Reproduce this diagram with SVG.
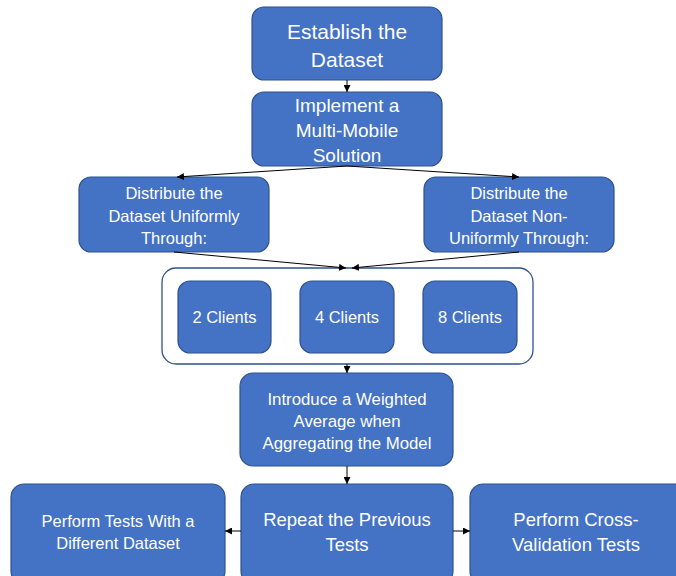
<svg xmlns="http://www.w3.org/2000/svg" width="676" height="576" viewBox="0 0 676 576">
  <defs>
    <marker id="arrow" viewBox="0 0 10 10" refX="10" refY="5" markerWidth="7" markerHeight="7" markerUnits="userSpaceOnUse" orient="auto">
      <path d="M0,0 L10,5 L0,10 z" fill="#000"/>
    </marker>
    <style>
      .box { fill: #4472c4; stroke: #2f528f; stroke-width: 1.2; }
      .frame { fill: #ffffff; stroke: #2f528f; stroke-width: 1.3; }
      .lbl { fill: #ffffff; font-family: "Liberation Sans", Arial, sans-serif; text-anchor: middle; dominant-baseline: central; }
      .conn line { stroke: #000; stroke-width: 1; marker-end: url(#arrow); }
    </style>
  </defs>
  <rect width="676" height="576" fill="#ffffff"/>

  <g id="establish">
    <rect class="box" x="252" y="7" width="190" height="73" rx="12"/>
    <text class="lbl" font-size="21"><tspan x="347" y="31">Establish the</tspan><tspan x="347" y="59">Dataset</tspan></text>
  </g>

  <g id="implement">
    <rect class="box" x="252" y="92" width="190" height="74" rx="12"/>
    <text class="lbl" font-size="19"><tspan x="347" y="105">Implement a</tspan><tspan x="347" y="130">Multi-Mobile</tspan><tspan x="347" y="155">Solution</tspan></text>
  </g>

  <g id="distribute-uniform">
    <rect class="box" x="79" y="177" width="190" height="75" rx="12"/>
    <text class="lbl" font-size="16.5"><tspan x="174" y="193">Distribute the</tspan><tspan x="174" y="216">Dataset Uniformly</tspan><tspan x="174" y="238">Through:</tspan></text>
  </g>

  <g id="distribute-nonuniform">
    <rect class="box" x="424" y="177" width="190" height="75" rx="12"/>
    <text class="lbl" font-size="16.5"><tspan x="519" y="193">Distribute the</tspan><tspan x="519" y="216">Dataset Non-</tspan><tspan x="519" y="238">Uniformly Through:</tspan></text>
  </g>

  <g id="clients">
    <rect class="frame" x="162" y="268" width="371" height="96" rx="14"/>
    <g id="clients-2">
      <rect class="box" x="178" y="281" width="93" height="72" rx="12"/>
      <text class="lbl" font-size="16.5" x="224.5" y="317">2 Clients</text>
    </g>
    <g id="clients-4">
      <rect class="box" x="300" y="281" width="94" height="72" rx="12"/>
      <text class="lbl" font-size="16.5" x="347" y="317">4 Clients</text>
    </g>
    <g id="clients-8">
      <rect class="box" x="423" y="281" width="94" height="72" rx="12"/>
      <text class="lbl" font-size="16.5" x="470" y="317">8 Clients</text>
    </g>
  </g>

  <g id="weighted-average">
    <rect class="box" x="240" y="373" width="213" height="93" rx="13"/>
    <text class="lbl" font-size="16.8"><tspan x="347" y="399">Introduce a Weighted</tspan><tspan x="347" y="421">Average when</tspan><tspan x="347" y="443">Aggregating the Model</tspan></text>
  </g>

  <g id="different-dataset">
    <rect class="box" x="11" y="484" width="214" height="100" rx="13"/>
    <text class="lbl" font-size="16.5"><tspan x="118" y="521">Perform Tests With a</tspan><tspan x="118" y="543">Different Dataset</tspan></text>
  </g>

  <g id="repeat-tests">
    <rect class="box" x="241" y="484" width="212" height="100" rx="13"/>
    <text class="lbl" font-size="18.5"><tspan x="347" y="519">Repeat the Previous</tspan><tspan x="347" y="544">Tests</tspan></text>
  </g>

  <g id="cross-validation">
    <rect class="box" x="470" y="484" width="220" height="100" rx="13"/>
    <text class="lbl" font-size="18.5"><tspan x="576" y="519">Perform Cross-</tspan><tspan x="576" y="544">Validation Tests</tspan></text>
  </g>

  <g id="connectors" class="conn">
    <line x1="347" y1="80" x2="347" y2="92"/>
    <line x1="347" y1="166" x2="177" y2="177"/>
    <line x1="347" y1="166" x2="519" y2="177"/>
    <line x1="174" y1="252" x2="346" y2="268"/>
    <line x1="519" y1="252" x2="352" y2="268"/>
    <line x1="347" y1="364" x2="347" y2="373"/>
    <line x1="347" y1="466" x2="347" y2="484"/>
    <line x1="241" y1="531" x2="225" y2="531"/>
    <line x1="453" y1="531" x2="470" y2="531"/>
  </g>
</svg>
